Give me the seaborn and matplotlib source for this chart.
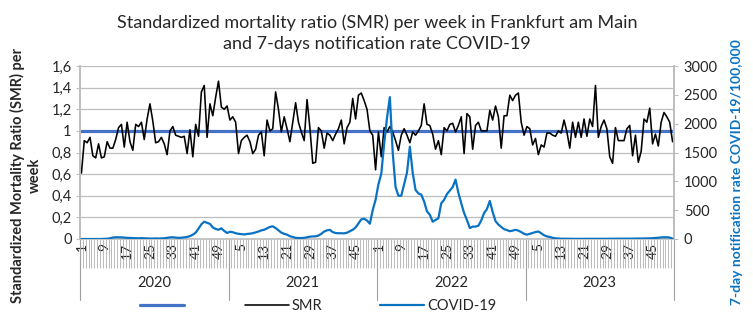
import numpy as np
import pandas as pd
import matplotlib
matplotlib.use("Agg")
import matplotlib.pyplot as plt
import matplotlib.transforms as mtransforms
from matplotlib.lines import Line2D
import seaborn as sns

# ---------------- data ----------------
years = ["2020", "2021", "2022", "2023"]
weeks_per_year = [52, 52, 52, 52]

smr = [
    # 2020
    0.61, 0.91, 0.89, 0.94, 0.77, 0.75, 0.88, 0.75, 0.76, 0.90, 0.84, 0.84, 0.92, 1.03, 1.06, 0.85, 1.08,
    0.90, 0.82, 1.06, 1.04, 1.08, 0.92, 1.11, 1.25, 1.09, 0.89, 0.90, 0.94, 0.88, 0.78, 1.00, 1.04, 0.96,
    0.95, 0.94, 0.95, 0.79, 1.01, 0.76, 1.06, 0.95, 1.36, 1.42, 0.94, 1.25, 1.14, 1.31, 1.46, 1.22, 1.20, 1.23,
    # 2021
    1.10, 1.13, 1.08, 0.79, 0.91, 0.94, 0.96, 0.90, 0.79, 0.83, 0.96, 0.99, 0.77, 1.10, 1.00, 1.02, 1.36,
    1.20, 0.99, 1.13, 1.02, 0.90, 1.08, 1.26, 1.08, 0.99, 0.91, 1.29, 1.03, 0.70, 0.71, 1.03, 1.00, 0.84,
    0.98, 0.96, 0.91, 0.97, 1.02, 1.10, 0.88, 1.03, 1.08, 1.30, 1.11, 1.33, 1.35, 1.28, 1.20, 1.00, 0.96, 0.64,
    # 2022
    0.99, 0.76, 1.03, 0.99, 1.04, 0.99, 0.91, 0.82, 0.96, 1.02, 0.96, 0.89, 0.99, 0.96, 1.00, 1.05, 1.25,
    1.06, 1.05, 0.97, 0.83, 0.91, 0.78, 1.03, 1.00, 1.06, 1.07, 0.99, 1.05, 1.13, 0.79, 1.16, 1.13, 0.83,
    1.05, 1.08, 1.00, 1.00, 1.00, 1.19, 1.10, 1.23, 1.13, 0.84, 1.14, 1.14, 1.33, 1.28, 1.33, 1.35, 1.08, 0.96,
    # 2023
    1.04, 1.02, 0.87, 0.93, 0.78, 0.87, 0.85, 0.98, 0.98, 0.96, 0.95, 1.00, 0.98, 1.10, 0.99, 0.84, 1.08,
    0.94, 1.08, 0.94, 1.11, 0.95, 1.11, 1.04, 1.42, 0.94, 1.04, 1.10, 1.02, 0.76, 0.70, 1.03, 0.91, 0.91,
    0.91, 1.02, 1.05, 0.77, 0.96, 0.71, 0.81, 1.11, 1.08, 1.21, 0.88, 0.97, 0.86, 1.08, 1.17, 1.13, 1.08, 0.90,
]

covid = [
    # 2020
    0, 0, 0, 0, 0, 0, 0, 0, 2, 5, 12, 25, 30, 30, 28, 25, 20, 18, 15, 15, 12, 15, 12, 10, 8, 8,
    10, 8, 10, 12, 20, 28, 30, 25, 20, 22, 28, 35, 50, 75, 110, 180, 255, 300, 280, 262, 200, 175, 160, 185, 140, 105,
    # 2021
    125, 118, 100, 90, 85, 78, 88, 92, 100, 115, 130, 150, 160, 185, 210, 220, 190, 150, 110, 90, 75, 48, 35, 20, 17, 17,
    20, 30, 40, 45, 46, 60, 90, 130, 150, 158, 120, 104, 100, 100, 98, 110, 135, 160, 200, 270, 340, 352, 320, 265, 500, 680,
    # 2022
    950, 1130, 1650, 2100, 2460, 1500, 900, 750, 750, 950, 1150, 1600, 1150, 850, 790, 770, 650, 480, 420, 300, 330, 360,
    620, 680, 780, 840, 900, 1030, 800, 620, 450, 330, 190, 215, 215, 230, 320, 450, 520, 660, 470, 310, 250, 210, 170, 155,
    135, 145, 160, 145, 120, 90,
    # 2023
    75, 90, 105, 120, 130, 100, 65, 45, 35, 20, 12, 8, 5, 5, 4, 4, 3, 3, 3, 3, 3, 3, 3, 3, 3, 3,
    4, 4, 4, 4, 5, 5, 5, 5, 6, 6, 6, 7, 7, 8, 8, 9, 10, 12, 14, 18, 22, 28, 30, 30, 25, 5,
]

ref_value = 1.0
smr_ticks = [0, 0.2, 0.4, 0.6, 0.8, 1.0, 1.2, 1.4, 1.6]
smr_tick_labels = ["0", "0,2", "0,4", "0,6", "0,8", "1", "1,2", "1,4", "1,6"]
covid_ticks = [0, 500, 1000, 1500, 2000, 2500, 3000]

title = "Standardized mortality ratio (SMR) per week in Frankfurt am Main\nand 7-days notification rate COVID-19"
left_label = "Standardized Mortality Ratio (SMR) per\nweek"
right_label = "7-day notification rate COVID-19/100,000"

# ---------------- style ----------------
sns.set_theme(style="white")
plt.rcParams['font.family'] = ['Lato', 'DejaVu Sans']

SMR_COLOR = "#000000"
COVID_COLOR = "#0A72C2"
REF_COLOR = "#4472C4"
GRID = "#BEBEBE"
TXT = "#262626"

n = sum(weeks_per_year)
week_labels = [w for nw in weeks_per_year for w in range(1, nw + 1)]
df = pd.DataFrame({"pos": np.arange(n), "SMR": smr, "COVID-19": covid, "week": week_labels})

W, H = 753, 322
fig = plt.figure(figsize=(W / 100, H / 100), dpi=100)
L, R, T, B = 80, 674, 66, 239
ax = fig.add_axes([L / W, 1 - B / H, (R - L) / W, (B - T) / H])

ax.axhline(ref_value, color=REF_COLOR, lw=2.3, zorder=2)
sns.lineplot(data=df, x="pos", y="SMR", ax=ax, color=SMR_COLOR, lw=1.15, zorder=3)

ax2 = ax.twinx()
sns.lineplot(data=df, x="pos", y="COVID-19", ax=ax2, color=COVID_COLOR, lw=1.6, zorder=4)

ax.set_xlim(-0.5, n - 0.5)
ax.set_ylim(0, 1.6)
ax2.set_ylim(0, 3000)

# grid
ax.set_yticks(smr_ticks)
ax.set_yticklabels(smr_tick_labels, fontsize=10.5, color=TXT)
ax.yaxis.grid(True, color=GRID, lw=0.9)
ax.set_axisbelow(True)
ax.tick_params(axis="y", which="major", length=3, color=GRID, width=0.8, pad=3, left=True)
ax2.set_yticks(covid_ticks)
ax2.set_yticklabels([str(v) for v in covid_ticks], fontsize=10.5, color=TXT)
ax2.tick_params(axis="y", length=3, color=GRID, width=0.8, pad=4, right=True)

for a in (ax, ax2):
    a.spines["top"].set_visible(False)
    a.spines["left"].set_color(GRID)
    a.spines["right"].set_color(GRID)
    a.spines["bottom"].set_color(GRID)
    a.set_xlabel("")
    a.set_ylabel("")
ax2.spines["bottom"].set_visible(False)

# x axis: category ticks
major_pos = list(range(0, n, 8))
ax.set_xticks(major_pos)
ax.set_xticklabels([str(week_labels[i]) for i in major_pos], rotation=90, fontsize=10, color=TXT)
ax.set_xticks(np.arange(-0.5, n, 1.0), minor=True)
ax.tick_params(axis="x", which="major", length=0, pad=3, bottom=True)
ax.tick_params(axis="x", which="minor", length=21, width=0.5, color="#A0A0A0", bottom=True, direction="out")

# year separators & labels
trans = mtransforms.blended_transform_factory(ax.transData, ax.transAxes)
edges = np.concatenate([[0], np.cumsum(weeks_per_year)]) - 0.5
y_low = -(300 - B) / (B - T)
for e in edges:
    ax.plot([e, e], [0, y_low], transform=trans, color="#A0A0A0", lw=0.8, clip_on=False)
for k, yr in enumerate(years):
    mid = (edges[k] + edges[k + 1]) / 2
    ax.text(mid, -(283 - B) / (B - T), yr, transform=trans, ha="center", va="center",
            fontsize=10.5, color=TXT)

# titles & axis labels
fig.text(0.5 * (L + R) / W, 1 - 33 / H, title, ha="center", va="center",
         fontsize=13, color=TXT, linespacing=1.4)
fig.text(26 / W, 1 - 175 / H, left_label, rotation=90, ha="center", va="center",
         fontsize=10.5, fontweight="bold", color=TXT, multialignment="center", linespacing=1.2)
fig.text(737 / W, 1 - 172 / H, right_label, rotation=90, ha="center", va="center",
         fontsize=10, fontweight="bold", color=COVID_COLOR)

# legend
handles = [Line2D([], [], color=REF_COLOR, lw=2.3),
           Line2D([], [], color=SMR_COLOR, lw=1.15),
           Line2D([], [], color=COVID_COLOR, lw=1.6)]
leg = fig.legend(handles, ["", "SMR", "COVID-19"], ncol=3, loc="center",
                 bbox_to_anchor=(318 / W, 1 - 306 / H), frameon=False, fontsize=10.5,
                 handlelength=3.0, handletextpad=0.2, columnspacing=4.0)
for t in leg.get_texts():
    t.set_color(TXT)

fig.savefig("out.png", dpi=100)
